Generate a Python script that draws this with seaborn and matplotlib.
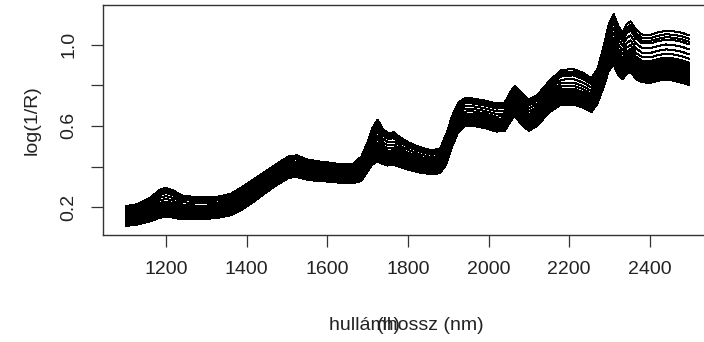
import numpy as np
import pandas as pd
import matplotlib
matplotlib.use("Agg")
import matplotlib.pyplot as plt
import seaborn as sns

# hullámhossz pontok (nm)
wl = [1100, 1130, 1160, 1185, 1200, 1215, 1240, 1270, 1300, 1330, 1360, 1390,
      1420, 1450, 1480, 1505, 1525, 1550, 1580, 1610, 1640, 1665, 1685, 1700,
      1712, 1725, 1738, 1750, 1765, 1780, 1800, 1830, 1860, 1880, 1895, 1910,
      1925, 1940, 1960, 1990, 2020, 2040, 2055, 2065, 2080, 2100, 2120, 2150,
      2180, 2210, 2235, 2255, 2270, 2285, 2298, 2310, 2322, 2332, 2342, 2352,
      2365, 2380, 2400, 2420, 2440, 2460, 2480, 2498]

# a spektrumsáv felső széle
band_hi = [0.205, 0.215, 0.245, 0.285, 0.295, 0.285, 0.258, 0.250, 0.248, 0.252,
           0.265, 0.300, 0.340, 0.380, 0.420, 0.450, 0.455, 0.435, 0.425, 0.418,
           0.410, 0.415, 0.450, 0.520, 0.590, 0.630, 0.585, 0.565, 0.568, 0.545,
           0.520, 0.495, 0.478, 0.490, 0.560, 0.650, 0.715, 0.735, 0.735, 0.725,
           0.710, 0.715, 0.770, 0.795, 0.765, 0.730, 0.750, 0.820, 0.875, 0.880,
           0.860, 0.835, 0.880, 0.990, 1.100, 1.150, 1.090, 1.060, 1.100, 1.115,
           1.075, 1.050, 1.048, 1.060, 1.068, 1.065, 1.058, 1.045]

# a spektrumsáv alsó széle
band_lo = [0.107, 0.115, 0.130, 0.148, 0.152, 0.150, 0.140, 0.140, 0.142, 0.148,
           0.160, 0.190, 0.230, 0.275, 0.315, 0.345, 0.348, 0.335, 0.328, 0.325,
           0.318, 0.318, 0.330, 0.375, 0.410, 0.425, 0.412, 0.405, 0.408, 0.398,
           0.385, 0.370, 0.362, 0.368, 0.410, 0.500, 0.570, 0.598, 0.600, 0.590,
           0.572, 0.575, 0.625, 0.650, 0.610, 0.575, 0.600, 0.665, 0.705, 0.705,
           0.690, 0.668, 0.710, 0.790, 0.870, 0.900, 0.850, 0.830, 0.855, 0.868,
           0.830, 0.815, 0.812, 0.822, 0.828, 0.822, 0.812, 0.800]

# minták helye a sávon belül (0 = alsó, 1 = felső szél)
sample_pos = [1.00, 0.93, 0.87, 0.82, 0.72, 0.62, 0.53,
              0.45, 0.41, 0.38, 0.35, 0.325, 0.30, 0.28,
              0.26, 0.24, 0.22, 0.20, 0.185, 0.165, 0.15,
              0.13, 0.115, 0.095, 0.08, 0.06, 0.04, 0.02, 0.00]

hi = np.array(band_hi)
lo = np.array(band_lo)
rows = []
for i, p in enumerate(sample_pos):
    vals = lo + p * (hi - lo)
    for w, v in zip(wl, vals):
        rows.append({"sample": i, "wl": w, "val": v})
df = pd.DataFrame(rows)

sns.set_theme(style="ticks")
plt.rcParams["font.family"] = ["Liberation Sans", "DejaVu Sans"]

fig = plt.figure(figsize=(7.04, 3.42), dpi=100)
ax = fig.add_axes([103 / 704, 1 - 235 / 342, 609 / 704, 230 / 342])

sns.lineplot(data=df, x="wl", y="val", units="sample", estimator=None,
             color="black", linewidth=0.72, antialiased=False, legend=False, ax=ax)

ax.set_xlim(1044, 2554)
ax.set_ylim(0.063, 1.195)
ax.set_xticks([1200, 1400, 1600, 1800, 2000, 2200, 2400])
ax.set_yticks([0.2, 0.4, 0.6, 0.8, 1.0])
ax.set_yticklabels(["0.2", "", "0.6", "", "1.0"], rotation=90, va="center")

for s in ax.spines.values():
    s.set_color("#333333")
    s.set_linewidth(1.0)
ax.tick_params(axis="both", length=8.5, width=0.9, color="#333333",
               labelsize=14, labelcolor="#222222", pad=10)

ax.set_xlabel("")
ax.set_ylabel("log(1/R)", fontsize=14, color="#222222", labelpad=14)

# az eredeti ábrán két felirat fedi egymást
fig.text(406 / 704, 1 - 325 / 342, "hullámhossz (nm)", ha="center", va="center",
         fontsize=14, color="#222222")
fig.text(389 / 704, 1 - 325 / 342, "(h)", ha="center", va="center",
         fontsize=14, color="#222222")

fig.savefig("out.png", dpi=100)
